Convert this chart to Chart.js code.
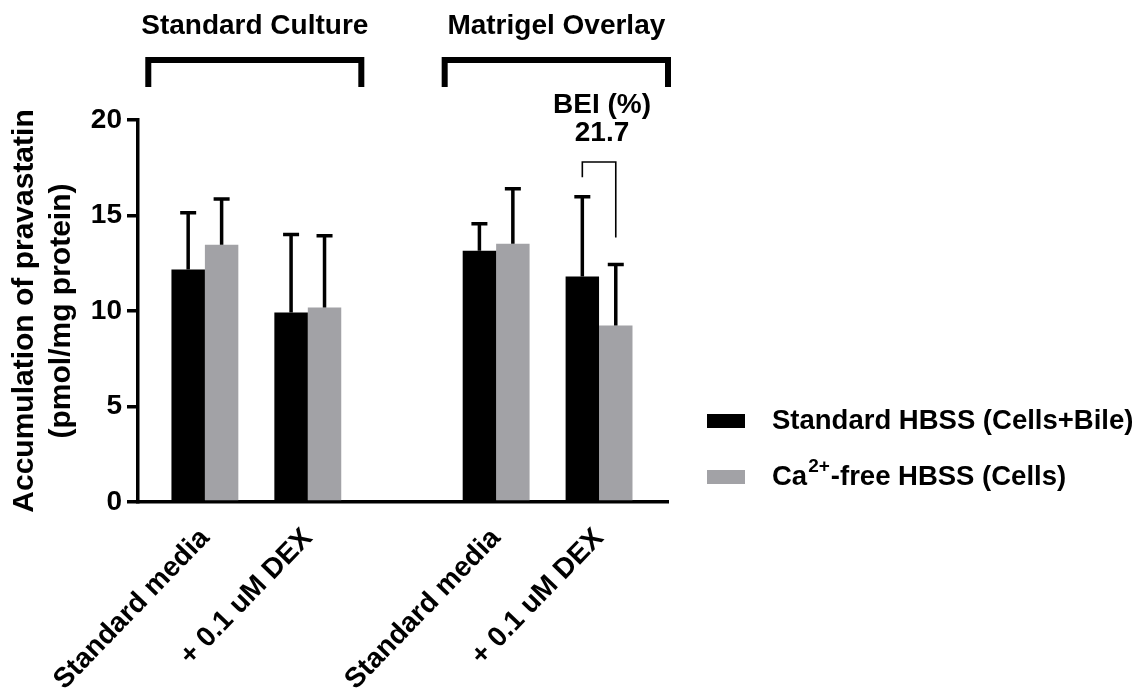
<!DOCTYPE html>
<html>
<head>
<meta charset="utf-8">
<script src="https://cdn.jsdelivr.net/npm/chart.js@4.4.0/dist/chart.umd.min.js"></script>
<style>
  html, body { margin: 0; padding: 0; background: #fff; }
</style>
</head>
<body>
<canvas id="chart" width="1142" height="693"></canvas>
<script>
// data
const conditions = ['Standard media', '+ 0.1 uM DEX', 'Standard media', '+ 0.1 uM DEX'];
const slots = [0, 1, 2.83, 3.83]; // x slot of each condition (gap between culture groups)
const groupTitles = ['Standard Culture', 'Matrigel Overlay'];
const seriesNames = ['Standard HBSS (Cells+Bile)', 'Ca2+-free HBSS (Cells)'];
const standardHBSS = [12.17, 9.92, 13.16, 11.8];
const standardHBSSsd = [2.97, 4.08, 1.41, 4.18];
const caFreeHBSS = [13.47, 10.18, 13.52, 9.24];
const caFreeHBSSsd = [2.40, 3.76, 2.88, 3.19];
const yTicks = [0, 5, 10, 15, 20];
const beiTitle = 'BEI (%)';
const beiValue = '21.7';

const BLACK = '#000000';
const GREY = '#a2a2a6';
const FONT = '"Liberation Sans", Arial, Helvetica, sans-serif';

Chart.defaults.font.family = FONT;
Chart.defaults.color = BLACK;

// error bars, group brackets, BEI note and legend
const annotations = {
  id: 'annotations',
  afterDatasetsDraw(chart) {
    const { ctx, scales: { y } } = chart;
    ctx.save();
    ctx.strokeStyle = BLACK;
    ctx.lineWidth = 3.5;
    chart.data.datasets.forEach((ds, di) => {
      chart.getDatasetMeta(di).data.forEach((bar, i) => {
        const top = y.getPixelForValue(ds.data[i].y + ds.sd[i]);
        ctx.beginPath();
        ctx.moveTo(bar.x, bar.y);
        ctx.lineTo(bar.x, top);
        ctx.moveTo(bar.x - 8, top);
        ctx.lineTo(bar.x + 8, top);
        ctx.stroke();
      });
    });
    ctx.restore();
  },
  afterDraw(chart) {
    const { ctx, chartArea, scales: { x, y } } = chart;
    ctx.save();
    ctx.fillStyle = BLACK;
    ctx.strokeStyle = BLACK;

    // group titles + brackets
    const spans = [[-0.55, 1.52], [2.33, 4.5]];
    ctx.font = 'bold 28px ' + FONT;
    ctx.textAlign = 'center';
    ctx.textBaseline = 'middle';
    ctx.lineWidth = 6;
    spans.forEach((sp, g) => {
      const x0 = x.getPixelForValue(sp[0]);
      const x1 = x.getPixelForValue(sp[1]);
      ctx.fillText(groupTitles[g], (x0 + x1) / 2, 26);
      ctx.beginPath();
      ctx.moveTo(x0, 87);
      ctx.lineTo(x0, 60);
      ctx.lineTo(x1, 60);
      ctx.lineTo(x1, 87);
      ctx.stroke();
    });

    // BEI bracket between the two DEX bars of the Matrigel group
    const b0 = chart.getDatasetMeta(0).data[3];
    const b1 = chart.getDatasetMeta(1).data[3];
    ctx.lineWidth = 1.6;
    ctx.beginPath();
    ctx.moveTo(b0.x, y.getPixelForValue(17.0));
    ctx.lineTo(b0.x, y.getPixelForValue(17.8));
    ctx.lineTo(b1.x, y.getPixelForValue(17.8));
    ctx.lineTo(b1.x, y.getPixelForValue(13.85));
    ctx.stroke();
    const bx = (b0.x + b1.x) / 2 + 3;
    ctx.fillText(beiTitle, bx, chartArea.top - 15);
    ctx.fillText(beiValue, bx, chartArea.top + 13);

    // legend
    const rows = [421, 477];
    const colors = [BLACK, GREY];
    ctx.textAlign = 'left';
    rows.forEach((ry, i) => {
      ctx.fillStyle = colors[i];
      ctx.fillRect(707, ry - 7, 38, 14);
      ctx.fillStyle = BLACK;
      ctx.font = 'bold 27.5px ' + FONT;
      let tx = 772;
      const name = seriesNames[i];
      const sup = name.indexOf('2+');
      if (sup < 0) {
        ctx.fillText(name, tx, ry);
      } else {
        const head = name.slice(0, sup);
        const tail = name.slice(sup + 2);
        ctx.fillText(head, tx, ry);
        tx += ctx.measureText(head).width + 1;
        ctx.font = 'bold 19px ' + FONT;
        ctx.fillText('2+', tx, ry - 10);
        tx += ctx.measureText('2+').width + 1;
        ctx.font = 'bold 27.5px ' + FONT;
        ctx.fillText(tail, tx, ry);
      }
    });
    ctx.restore();
  }
};

new Chart(document.getElementById('chart'), {
  type: 'bar',
  data: {
    datasets: [
      {
        label: seriesNames[0],
        data: slots.map((s, i) => ({ x: s, y: standardHBSS[i] })),
        sd: standardHBSSsd,
        backgroundColor: BLACK
      },
      {
        label: seriesNames[1],
        data: slots.map((s, i) => ({ x: s, y: caFreeHBSS[i] })),
        sd: caFreeHBSSsd,
        backgroundColor: GREY
      }
    ]
  },
  options: {
    responsive: false,
    animation: false,
    layout: { padding: { top: 120, right: 474, left: 0, bottom: 0 } },
    datasets: { bar: { categoryPercentage: 0.65, barPercentage: 1 } },
    plugins: { legend: { display: false }, tooltip: { enabled: false } },
    scales: {
      x: {
        type: 'linear',
        min: -0.65,
        max: 4.5,
        offset: false,
        grid: { display: false, drawTicks: false, offset: false },
        border: { display: true, color: BLACK, width: 3.5 },
        afterBuildTicks: s => { s.ticks = slots.map(v => ({ value: v })); },
        afterFit: s => { s.height = 191; },
        ticks: {
          autoSkip: false,
          minRotation: 46,
          maxRotation: 46,
          padding: 20,
          color: BLACK,
          font: { size: 28, weight: 'bold' },
          callback: (v, i) => conditions[i]
        }
      },
      y: {
        min: 0,
        max: 20,
        afterBuildTicks: s => { s.ticks = yTicks.map(v => ({ value: v })); },
        afterFit: s => { s.width = 138; },
        grid: { drawOnChartArea: false, drawTicks: true, tickLength: 11, color: BLACK, lineWidth: 3.5 },
        border: { display: true, color: BLACK, width: 3.5 },
        ticks: { padding: 5, color: BLACK, font: { size: 28, weight: 'bold' } },
        title: {
          display: true,
          text: ['Accumulation of pravastatin', '(pmol/mg protein)'],
          color: BLACK,
          font: { size: 30, weight: 'bold', lineHeight: 1.23 },
          padding: { top: 6, bottom: 0 }
        }
      }
    }
  },
  plugins: [annotations]
});
</script>
</body>
</html>
